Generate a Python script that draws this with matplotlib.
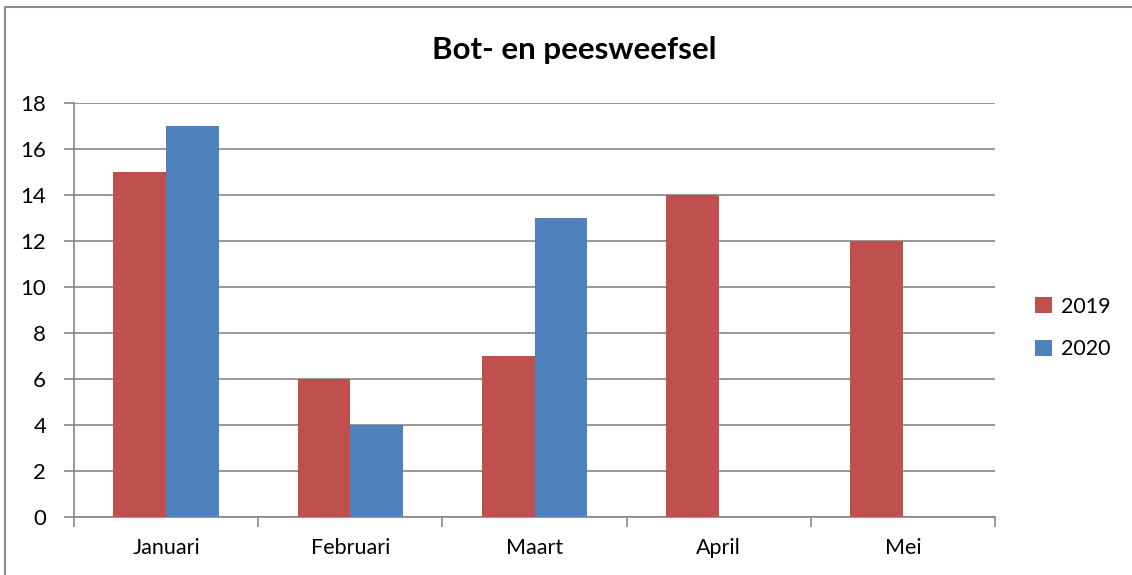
import numpy as np
import matplotlib.pyplot as plt
from matplotlib.patches import Rectangle

# data
maanden = ['Januari', 'Februari', 'Maart', 'April', 'Mei']
waarden_2019 = [15, 6, 7, 14, 12]
waarden_2020 = [17, 4, 13, 0, 0]

plt.rcParams['font.family'] = ['Lato', 'DejaVu Sans']

W, H = 1132, 575
fig = plt.figure(figsize=(W / 100, H / 100), dpi=100)
ax = fig.add_axes([74 / W, 1 - 517 / H, (995 - 74) / W, (517 - 103) / H])

x = np.arange(len(maanden))
bw = 1 / 3.5
ax.bar(x - bw / 2, waarden_2019, bw, color='#C0504D', label='2019', zorder=3)
ax.bar(x + bw / 2, waarden_2020, bw, color='#4F81BD', label='2020', zorder=3)

ax.set_xlim(-0.5, len(maanden) - 0.5)
ax.set_ylim(0, 18)
ax.set_yticks(range(0, 19, 2))
ax.yaxis.grid(True, color='#868686', linewidth=1.2, zorder=0)
ax.set_xticks(x)
ax.set_xticklabels(maanden, fontsize=15.5)
ax.set_xticks(np.arange(-0.5, len(maanden)), minor=True)
ax.tick_params(axis='x', which='major', length=0, pad=15)
ax.tick_params(axis='x', which='minor', length=7, width=1.2, color='#868686', direction='out')
ax.tick_params(axis='y', length=7, width=1.2, color='#868686', labelsize=16, pad=13)

for s in ['top', 'right']:
    ax.spines[s].set_visible(False)
for s in ['left', 'bottom']:
    ax.spines[s].set_color('#868686')
    ax.spines[s].set_linewidth(1.2)

fig.text(574 / W, 1 - 50 / H, 'Bot- en peesweefsel', fontsize=22.5, fontweight='bold',
         ha='center', va='center')

fig.legend(loc='center left', bbox_to_anchor=(1016 / W, 1 - 328 / H), frameon=False,
           fontsize=15.5, handlelength=0.75, handleheight=0.75, handletextpad=0.45,
           labelspacing=1.05)

fig.patches.append(Rectangle((5 / W, -0.05), 1.1, 1 - 7 / H + 0.05, transform=fig.transFigure,
                             fill=False, edgecolor='#8c8c8c', linewidth=1.5))

fig.savefig('out.png', dpi=100)
